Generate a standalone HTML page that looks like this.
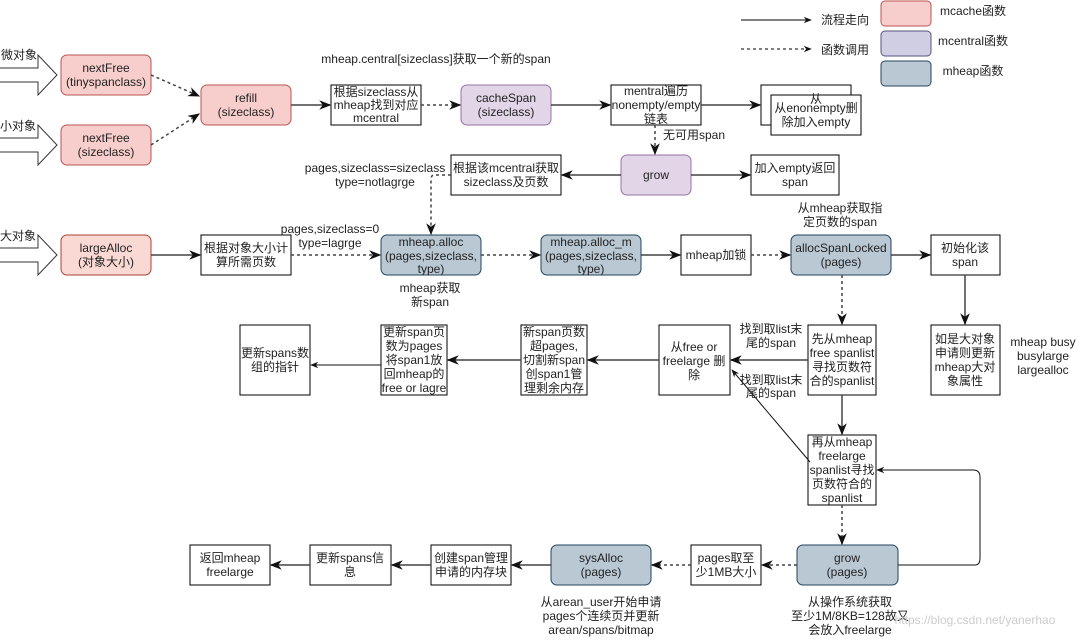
<!DOCTYPE html>
<html><head><meta charset="utf-8"><style>
body{margin:0;background:#fff}
svg text{font-family:"Liberation Sans","Noto Sans CJK SC",sans-serif;font-size:12px;fill:#222;text-anchor:middle}
</style></head><body>
<svg width="1088" height="637" viewBox="0 0 1088 637" xmlns="http://www.w3.org/2000/svg">
<defs>
<marker id="a" viewBox="0 0 10 10" refX="9" refY="5" markerWidth="8" markerHeight="8" orient="auto"><path d="M0,1 L10,5 L0,9 L3,5 z" fill="#111"/></marker>
</defs>
<g fill="none" stroke="#000">
<line x1="741" y1="20" x2="811" y2="20" stroke="#000" marker-end="url(#a)"/>
<line x1="741" y1="49" x2="811" y2="49" stroke-dasharray="3,3" marker-end="url(#a)"/>
<rect x="881" y="1" width="50" height="25" rx="4" fill="#f8cecc" stroke="#b85450"/>
<rect x="881" y="31" width="50" height="25" rx="4" fill="#d0cee2" stroke="#56517e"/>
<rect x="881" y="61" width="50" height="25" rx="4" fill="#bac8d3" stroke="#23445d"/>
<path d="M0,68 H38 V55 L57,75 L38,95 V82 H0" stroke="#333" fill="#fff"/>
<path d="M0,138 H38 V125 L57,145 L38,165 V152 H0" stroke="#333" fill="#fff"/>
<path d="M0,248 H38 V235 L57,255 L38,275 V262 H0" stroke="#333" fill="#fff"/>
<rect x="61" y="55" width="90" height="40" rx="6" fill="#f8cecc" stroke="#b85450"/>
<rect x="61" y="125" width="90" height="40" rx="6" fill="#f8cecc" stroke="#b85450"/>
<rect x="201" y="85" width="90" height="40" rx="6" fill="#f8cecc" stroke="#b85450"/>
<rect x="61" y="235" width="90" height="40" rx="6" fill="#fad9d5" stroke="#ae4132"/>
<rect x="461" y="85" width="90" height="40" rx="6" fill="#e1d5e7" stroke="#9673a6"/>
<rect x="621" y="155" width="70" height="40" rx="6" fill="#e1d5e7" stroke="#9673a6"/>
<rect x="381" y="235" width="100" height="40" rx="6" fill="#bac8d3" stroke="#23445d"/>
<rect x="541" y="235" width="100" height="40" rx="6" fill="#bac8d3" stroke="#23445d"/>
<rect x="791" y="235" width="100" height="40" rx="6" fill="#bac8d3" stroke="#23445d"/>
<rect x="551" y="545" width="100" height="40" rx="6" fill="#bac8d3" stroke="#23445d"/>
<rect x="797" y="545" width="101" height="40" rx="6" fill="#bac8d3" stroke="#23445d"/>
<rect x="331" y="85" width="90" height="40" fill="#fff"/>
<rect x="611" y="85" width="90" height="40" fill="#fff"/>
<rect x="761" y="85" width="90" height="40" fill="#fff"/>
<rect x="771" y="95" width="90" height="40" fill="#fff"/>
<rect x="451" y="155" width="110" height="40" fill="#fff"/>
<rect x="751" y="155" width="88" height="40" fill="#fff"/>
<rect x="201" y="235" width="90" height="40" fill="#fff"/>
<rect x="681" y="235" width="70" height="40" fill="#fff"/>
<rect x="931" y="235" width="69" height="40" fill="#fff"/>
<rect x="931" y="325" width="69" height="70" fill="#fff"/>
<rect x="808" y="325" width="68" height="70" fill="#fff"/>
<rect x="659" y="325" width="71" height="70" fill="#fff"/>
<rect x="521" y="325" width="66" height="70" fill="#fff"/>
<rect x="381" y="325" width="66" height="70" fill="#fff"/>
<rect x="240" y="325" width="70" height="70" fill="#fff"/>
<rect x="808" y="435" width="68" height="70" fill="#fff"/>
<rect x="691" y="545" width="70" height="40" fill="#fff"/>
<rect x="431" y="545" width="80" height="40" fill="#fff"/>
<rect x="310" y="545" width="81" height="40" fill="#fff"/>
<rect x="190" y="545" width="80" height="40" fill="#fff"/>
</g>
<g fill="none" stroke="#444" stroke-width="1.5">
<line x1="151" y1="75" x2="199" y2="96" stroke-dasharray="3,3" marker-end="url(#a)"/>
<line x1="151" y1="145" x2="199" y2="114" stroke-dasharray="3,3" marker-end="url(#a)"/>
<line x1="291" y1="105" x2="330" y2="105" marker-end="url(#a)"/>
<line x1="421" y1="105" x2="460" y2="105" stroke-dasharray="3,3" marker-end="url(#a)"/>
<line x1="551" y1="105" x2="610" y2="105" marker-end="url(#a)"/>
<line x1="701" y1="105" x2="760" y2="105" marker-end="url(#a)"/>
<line x1="655" y1="125" x2="655" y2="154" stroke-dasharray="3,3" marker-end="url(#a)"/>
<line x1="621" y1="175" x2="562" y2="175" marker-end="url(#a)"/>
<line x1="691" y1="175" x2="750" y2="175" marker-end="url(#a)"/>
<path d="M451,175 H434 Q431,175 431,180 V234" stroke-dasharray="3,3" marker-end="url(#a)"/>
<line x1="151" y1="255" x2="200" y2="255" marker-end="url(#a)"/>
<line x1="291" y1="255" x2="380" y2="255" stroke-dasharray="3,3" marker-end="url(#a)"/>
<line x1="481" y1="255" x2="540" y2="255" stroke-dasharray="3,3" marker-end="url(#a)"/>
<line x1="641" y1="255" x2="680" y2="255" marker-end="url(#a)"/>
<line x1="751" y1="255" x2="790" y2="255" stroke-dasharray="3,3" marker-end="url(#a)"/>
<line x1="891" y1="255" x2="930" y2="255" marker-end="url(#a)"/>
<line x1="965" y1="275" x2="965" y2="324" marker-end="url(#a)"/>
<line x1="842" y1="275" x2="842" y2="324" stroke-dasharray="3,3" marker-end="url(#a)"/>
<line x1="808" y1="360" x2="731" y2="360" marker-end="url(#a)"/>
<line x1="842" y1="395" x2="842" y2="434" marker-end="url(#a)"/>
<line x1="659" y1="360" x2="588" y2="360" marker-end="url(#a)"/>
<line x1="521" y1="360" x2="448" y2="360" marker-end="url(#a)"/>
<line x1="381" y1="365" x2="311" y2="365" stroke="#111" stroke-width="1" marker-end="url(#a)"/>
<line x1="810" y1="462" x2="732" y2="370" stroke="#111" stroke-width="1" marker-end="url(#a)"/>
<line x1="842" y1="505" x2="842" y2="544" stroke-dasharray="3,3" marker-end="url(#a)"/>
<path d="M898,565 H975 Q980,565 980,558 V477 Q980,470 973,470 H877" stroke="#111" stroke-width="1" marker-end="url(#a)"/>
<line x1="797" y1="565" x2="762" y2="565" stroke-dasharray="3,3" marker-end="url(#a)"/>
<line x1="691" y1="565" x2="652" y2="565" stroke-dasharray="3,3" marker-end="url(#a)"/>
<line x1="551" y1="565" x2="512" y2="565" marker-end="url(#a)"/>
<line x1="431" y1="565" x2="392" y2="565" marker-end="url(#a)"/>
<line x1="310" y1="565" x2="271" y2="565" marker-end="url(#a)"/>
</g>
<g>
<text x="845" y="24">流程走向</text><text x="845" y="54">函数调用</text>
<text x="973" y="15">mcache函数</text><text x="973" y="45">mcentral函数</text><text x="973" y="75">mheap函数</text>
<text x="19" y="59">微对象</text><text x="18" y="130">小对象</text><text x="18" y="240">大对象</text>
<text x="106" y="72">nextFree</text><text x="106" y="86">(tinyspanclass)</text>
<text x="106" y="142">nextFree</text><text x="106" y="156">(sizeclass)</text>
<text x="246" y="102">refill</text><text x="246" y="116">(sizeclass)</text>
<text x="436" y="63">mheap.central[sizeclass]获取一个新的span</text>
<text x="376" y="96">根据sizeclass从</text><text x="376" y="109">mheap找到对应</text><text x="376" y="122">mcentral</text>
<text x="506" y="102">cacheSpan</text><text x="506" y="116">(sizeclass)</text>
<text x="656" y="95">mentral遍历</text><text x="656" y="109">nonempty/empty</text><text x="656" y="123">链表</text>
<text x="816" y="103">从</text>
<text x="816" y="112">从enonempty删</text><text x="816" y="126">除加入empty</text>
<text x="694" y="139">无可用span</text>
<text x="656" y="179">grow</text>
<text x="506" y="172">根据该mcentral获取</text><text x="506" y="186">sizeclass及页数</text>
<text x="795" y="172">加入empty返回</text><text x="795" y="186">span</text>
<text x="375" y="172">pages,sizeclass=sizeclass</text><text x="375" y="186">type=notlagrge</text>
<text x="106" y="252">largeAlloc</text><text x="106" y="266">(对象大小)</text>
<text x="246" y="252">根据对象大小计</text><text x="246" y="266">算所需页数</text>
<text x="330" y="233">pages,sizeclass=0</text><text x="330" y="247">type=lagrge</text>
<text x="431" y="246">mheap.alloc</text><text x="431" y="260">(pages,sizeclass,</text><text x="431" y="273">type)</text>
<text x="430" y="292">mheap获取</text><text x="430" y="306">新span</text>
<text x="591" y="246">mheap.alloc_m</text><text x="591" y="260">(pages,sizeclass,</text><text x="591" y="273">type)</text>
<text x="716" y="259">mheap加锁</text>
<text x="840" y="212">从mheap获取指</text><text x="840" y="226">定页数的span</text>
<text x="841" y="252">allocSpanLocked</text><text x="841" y="266">(pages)</text>
<text x="965" y="252">初始化该</text><text x="965" y="266">span</text>
<text x="965" y="343">如是大对象</text><text x="965" y="357">申请则更新</text><text x="965" y="371">mheap大对</text><text x="965" y="385">象属性</text>
<text x="1043" y="346">mheap busy</text><text x="1043" y="360">busylarge</text><text x="1043" y="374">largealloc</text>
<text x="842" y="343">先从mheap</text><text x="842" y="357">free spanlist</text><text x="842" y="371">寻找页数符</text><text x="842" y="385">合的spanlist</text>
<text x="771" y="333">找到取list末</text><text x="771" y="347">尾的span</text>
<text x="771" y="384">找到取list末</text><text x="771" y="397">尾的span</text>
<text x="694" y="351">从free or</text><text x="694" y="365">freelarge 删</text><text x="694" y="379">除</text>
<text x="554" y="336">新span页数</text><text x="554" y="350">超pages,</text><text x="554" y="364">切割新span</text><text x="554" y="378">创span1管</text><text x="554" y="392">理剩余内存</text>
<text x="414" y="336">更新span页</text><text x="414" y="350">数为pages</text><text x="414" y="364">将span1放</text><text x="414" y="378">回mheap的</text><text x="414" y="392">free or lagre</text>
<text x="275" y="357">更新spans数</text><text x="275" y="371">组的指针</text>
<text x="842" y="446">再从mheap</text><text x="842" y="460">freelarge</text><text x="842" y="474">spanlist寻找</text><text x="842" y="488">页数符合的</text><text x="842" y="502">spanlist</text>
<text x="847" y="562">grow</text><text x="847" y="576">(pages)</text>
<text x="726" y="562">pages取至</text><text x="726" y="576">少1MB大小</text>
<text x="601" y="562">sysAlloc</text><text x="601" y="576">(pages)</text>
<text x="471" y="562">创建span管理</text><text x="471" y="576">申请的内存块</text>
<text x="350" y="562">更新spans信</text><text x="350" y="576">息</text>
<text x="230" y="562">返回mheap</text><text x="230" y="576">freelarge</text>
<text x="601" y="606">从arean_user开始申请</text><text x="601" y="620">pages个连续页并更新</text><text x="601" y="634">arean/spans/bitmap</text>
<text x="850" y="606">从操作系统获取</text><text x="850" y="620">至少1M/8KB=128故又</text><text x="850" y="634">会放入freelarge</text>
<text x="975" y="624" style="fill:#ccc;font-size:12px">https://blog.csdn.net/yanerhao</text>
</g>
</svg>
</body></html>
